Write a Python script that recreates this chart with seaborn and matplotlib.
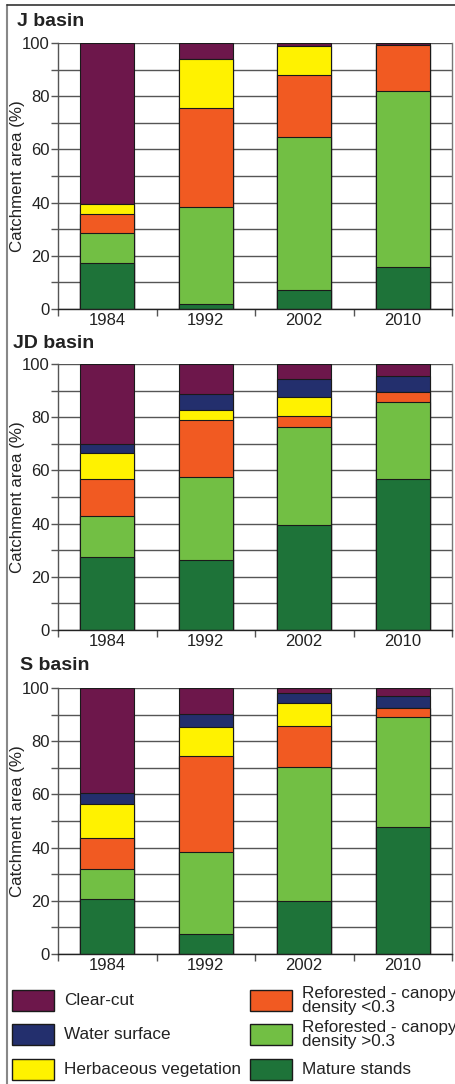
import numpy as np
import pandas as pd
import seaborn as sns
import matplotlib.pyplot as plt
from matplotlib.patches import Rectangle
from matplotlib.lines import Line2D

years = ["1984", "1992", "2002", "2010"]
classes = ["Mature stands", "Reforested - canopy\ndensity >0.3",
           "Reforested - canopy\ndensity <0.3", "Herbaceous vegetation",
           "Water surface", "Clear-cut"]
palette = {
    "Mature stands": "#1e7339",
    "Reforested - canopy\ndensity >0.3": "#72bf44",
    "Reforested - canopy\ndensity <0.3": "#f15a22",
    "Herbaceous vegetation": "#fff200",
    "Water surface": "#232f6d",
    "Clear-cut": "#6d174b",
}

# J basin (% of catchment)
j_mature = [17.3, 2.0, 7.0, 15.8]
j_ref_hi = [11.3, 36.2, 57.8, 66.0]
j_ref_lo = [7.1, 37.2, 23.2, 17.4]
j_herb = [3.8, 18.5, 10.9, 0.0]
j_water = [0.0, 0.0, 0.0, 0.0]
j_clear = [60.5, 6.1, 1.1, 0.8]

# JD basin
jd_mature = [27.3, 26.3, 39.3, 56.9]
jd_ref_hi = [15.7, 31.3, 37.0, 28.8]
jd_ref_lo = [13.9, 21.2, 4.0, 3.8]
jd_herb = [9.8, 3.8, 7.4, 0.0]
jd_water = [3.1, 6.1, 6.7, 6.1]
jd_clear = [30.2, 11.3, 5.6, 4.4]

# S basin
s_mature = [20.8, 7.4, 19.8, 47.6]
s_ref_hi = [11.2, 30.9, 50.5, 41.4]
s_ref_lo = [11.7, 36.3, 15.3, 3.6]
s_herb = [12.6, 10.9, 8.8, 0.0]
s_water = [4.3, 4.9, 3.8, 4.3]
s_clear = [39.4, 9.6, 1.8, 3.1]

basins = {
    "J basin": [j_mature, j_ref_hi, j_ref_lo, j_herb, j_water, j_clear],
    "JD basin": [jd_mature, jd_ref_hi, jd_ref_lo, jd_herb, jd_water, jd_clear],
    "S basin": [s_mature, s_ref_hi, s_ref_lo, s_herb, s_water, s_clear],
}

rows = []
for basin, series in basins.items():
    for cls, vals in zip(classes, series):
        for yr, v in zip(years, vals):
            rows.append({"basin": basin, "class": cls, "year": yr, "value": v})
df = pd.DataFrame(rows)
df["class"] = pd.Categorical(df["class"], categories=classes, ordered=True)
df = df.sort_values(["basin", "year", "class"])
df["top"] = df.groupby(["basin", "year"])["value"].cumsum()

sns.set_style("white")
plt.rcParams["font.family"] = ["Liberation Sans", "DejaVu Sans"]

W, H = 455, 1084
fig = plt.figure(figsize=(W / 100, H / 100), dpi=100)

# axes: (top px of 100, bottom px of 0), title position
panels = [
    ("J basin", 43, 309, 17, 22),
    ("JD basin", 364, 630, 13, 343),
    ("S basin", 688, 954, 20, 666),
]

for name, ytop, ybot, tx, ty in panels:
    ax = fig.add_axes([58 / W, 1 - ybot / H, 394 / W, (ybot - ytop) / H])
    sub = df[df["basin"] == name]
    for cls in classes[::-1]:
        d = sub[sub["class"] == cls]
        sns.barplot(data=d, x="year", y="top", order=years, color=palette[cls],
                    width=0.55, edgecolor="#1a1a1a", linewidth=0.8,
                    errorbar=None, saturation=1, ax=ax)
    ax.set_xlim(-0.5, 3.5)
    ax.set_ylim(0, 100)
    ax.set_yticks(np.arange(0, 101, 20))
    ax.set_yticks(np.arange(10, 100, 20), minor=True)
    ax.set_xticks([-0.5, 0.5, 1.5, 2.5, 3.5], minor=True)
    ax.tick_params(axis="x", which="major", length=0, pad=3, labelsize=12,
                   colors="#222222")
    ax.tick_params(axis="x", which="minor", length=5, width=1, color="#555555",
                   direction="out", bottom=True)
    ax.tick_params(axis="y", which="both", length=5, width=1, color="#555555",
                   direction="out", left=True, labelsize=12, labelcolor="#222222",
                   pad=1)
    ax.set_axisbelow(True)
    ax.grid(axis="y", which="both", color="#555555", linewidth=1)
    ax.set_xlabel("")
    ax.set_ylabel("Catchment area (%)", fontsize=12.2, color="#222222")
    ax.yaxis.set_label_coords(-0.084, 0.5)
    for side in ["left", "right", "bottom"]:
        ax.spines[side].set_visible(True)
    ax.spines["top"].set_visible(False)
    ax.spines["left"].set_color("#555555")
    ax.spines["right"].set_color("#777777")
    ax.spines["bottom"].set_color("#222222")
    for s in ax.spines.values():
        s.set_linewidth(1)
    fig.text(tx / W, 1 - ty / H, name, fontsize=14, fontweight="bold",
             color="#222222", va="center", ha="left")

# legend (column-wise like the original)
legend_items = [
    ("Clear-cut", 12, 990), ("Water surface", 12, 1024),
    ("Herbaceous vegetation", 12, 1059),
    ("Reforested - canopy\ndensity <0.3", 250, 990),
    ("Reforested - canopy\ndensity >0.3", 250, 1024),
    ("Mature stands", 250, 1059),
]
for lab, px, py in legend_items:
    fig.add_artist(Rectangle((px / W, 1 - (py + 21) / H), 42 / W, 21 / H,
                             transform=fig.transFigure, facecolor=palette[lab],
                             edgecolor="#1a1a1a", linewidth=1))
    fig.text((px + 52) / W, 1 - (py + 10.5) / H, lab, fontsize=12.3,
             color="#222222", va="center", ha="left", linespacing=0.85)

# outer frame
fig.add_artist(Line2D([7 / W, 7 / W], [0, 1 - 5 / H], transform=fig.transFigure,
                      color="#888888", linewidth=1.5))
fig.add_artist(Line2D([7 / W, 1], [1 - 5 / H, 1 - 5 / H], transform=fig.transFigure,
                      color="#333333", linewidth=1.2))

fig.savefig("out.png", dpi=100)
